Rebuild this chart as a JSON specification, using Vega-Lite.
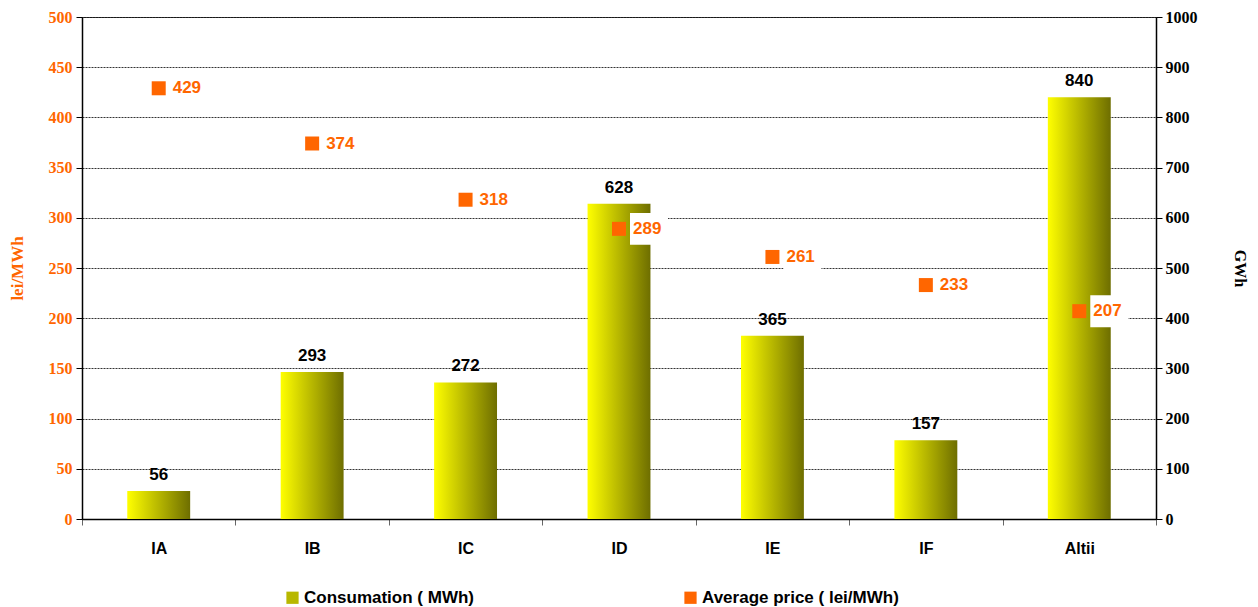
{
  "$schema": "https://vega.github.io/schema/vega-lite/v6.json",
  "width": 1074,
  "height": 502,
  "autosize": "none",
  "padding": {"left": 82, "top": 17, "right": 102, "bottom": 88},
  "background": "white",
  "config": {
    "view": {"stroke": "black", "strokeWidth": 1},
    "font": "Liberation Sans"
  },
  "data": {
    "values": [
      {"group": "IA", "gwh": 56, "price": 429, "series": "Average price ( lei/MWh)"},
      {"group": "IB", "gwh": 293, "price": 374, "series": "Average price ( lei/MWh)"},
      {"group": "IC", "gwh": 272, "price": 318, "series": "Average price ( lei/MWh)"},
      {"group": "ID", "gwh": 628, "price": 289, "series": "Average price ( lei/MWh)"},
      {"group": "IE", "gwh": 365, "price": 261, "series": "Average price ( lei/MWh)"},
      {"group": "IF", "gwh": 157, "price": 233, "series": "Average price ( lei/MWh)"},
      {"group": "Altii", "gwh": 840, "price": 207, "series": "Average price ( lei/MWh)"}
    ]
  },
  "encoding": {
    "x": {
      "field": "group",
      "type": "nominal",
      "sort": null,
      "scale": {"paddingInner": 0, "paddingOuter": 0},
      "axis": {
        "title": null,
        "labelAngle": 0,
        "labelFont": "Liberation Sans",
        "labelFontWeight": "bold",
        "labelFontSize": 16,
        "labelColor": "black",
        "labelPadding": 15,
        "tickBand": "extent",
        "tickSize": 6,
        "tickColor": "#666",
        "domainColor": "black",
        "domainWidth": 1.5
      }
    }
  },
  "layer": [
    {
      "layer": [
        {
          "mark": {
            "type": "bar",
            "width": {"band": 0.41},
            "color": {
              "gradient": "linear",
              "x1": 0, "x2": 1, "y1": 0, "y2": 0,
              "stops": [
                {"offset": 0, "color": "#ffff00"},
                {"offset": 1, "color": "#6e6e00"}
              ]
            }
          },
          "encoding": {
            "y": {
              "field": "gwh",
              "type": "quantitative",
              "scale": {"domain": [0, 1000], "nice": false},
              "axis": {
                "orient": "right",
                "title": "GWh",
                "titleFont": "Liberation Serif",
                "titleFontWeight": "bold",
                "titleFontSize": 16,
                "titleColor": "black",
                "titlePadding": 34,
                "format": "d",
                "values": [0, 100, 200, 300, 400, 500, 600, 700, 800, 900, 1000],
                "labelFont": "Liberation Serif",
                "labelFontWeight": "bold",
                "labelFontSize": 16,
                "labelColor": "black",
                "labelPadding": 3,
                "grid": false,
                "tickSize": 6,
                "tickColor": "black",
                "domainColor": "black",
                "domainWidth": 1.5
              }
            }
          }
        },
        {
          "mark": {
            "type": "text",
            "baseline": "alphabetic",
            "dy": -11,
            "font": "Liberation Sans",
            "fontWeight": "bold",
            "fontSize": 17,
            "color": "black"
          },
          "encoding": {
            "y": {"field": "gwh", "type": "quantitative"},
            "text": {"field": "gwh", "type": "quantitative"}
          }
        }
      ]
    },
    {
      "layer": [
        {
          "mark": {
            "type": "point",
            "shape": "M-1,-0.84L1,-0.84L1,0.84L-1,0.84Z",
            "size": 1444,
            "filled": true,
            "opacity": 1,
            "color": "white",
            "xOffset": 30
          },
          "encoding": {
            "y": {
              "field": "price",
              "type": "quantitative",
              "scale": {"domain": [0, 500], "nice": false},
              "axis": {
                "orient": "left",
                "title": "lei/MWh",
                "titleFont": "Liberation Serif",
                "titleFontWeight": "bold",
                "titleFontSize": 17,
                "titleColor": "#FF6600",
                "titlePadding": 22,
                "values": [0, 50, 100, 150, 200, 250, 300, 350, 400, 450, 500],
                "labelFont": "Liberation Serif",
                "labelFontWeight": "bold",
                "labelFontSize": 16,
                "labelColor": "#FF6600",
                "labelPadding": 4,
                "grid": true,
                "gridColor": "#333",
                "gridDash": [2, 1],
                "gridWidth": 1,
                "tickSize": 6,
                "tickColor": "black",
                "domainColor": "black",
                "domainWidth": 1.5
              }
            }
          }
        },
        {
          "mark": {"type": "point", "shape": "square", "filled": true, "opacity": 1, "size": 196},
          "encoding": {
            "y": {"field": "price", "type": "quantitative"},
            "color": {
              "field": "series",
              "type": "nominal",
              "scale": {
                "domain": ["Consumation ( MWh)", "Average price ( lei/MWh)"],
                "range": ["#b8b800", "#FF6600"]
              },
              "legend": {
                "title": null,
                "orient": "none",
                "direction": "horizontal",
                "columns": 2,
                "legendX": 202,
                "legendY": 572,
                "padding": 0,
                "columnPadding": 208,
                "symbolType": "square",
                "symbolSize": 150,
                "symbolOpacity": 1,
                "symbolStrokeWidth": 0,
                "labelFont": "Liberation Sans",
                "labelFontWeight": "bold",
                "labelFontSize": 17,
                "labelColor": "black",
                "labelOffset": 3,
                "labelLimit": 400
              }
            }
          }
        },
        {
          "mark": {
            "type": "text",
            "align": "left",
            "baseline": "middle",
            "xOffset": 14,
            "font": "Liberation Sans",
            "fontWeight": "bold",
            "fontSize": 17,
            "color": "#FF6600"
          },
          "encoding": {
            "y": {"field": "price", "type": "quantitative"},
            "text": {"field": "price", "type": "quantitative"}
          }
        }
      ]
    }
  ],
  "resolve": {"scale": {"y": "independent"}}
}
